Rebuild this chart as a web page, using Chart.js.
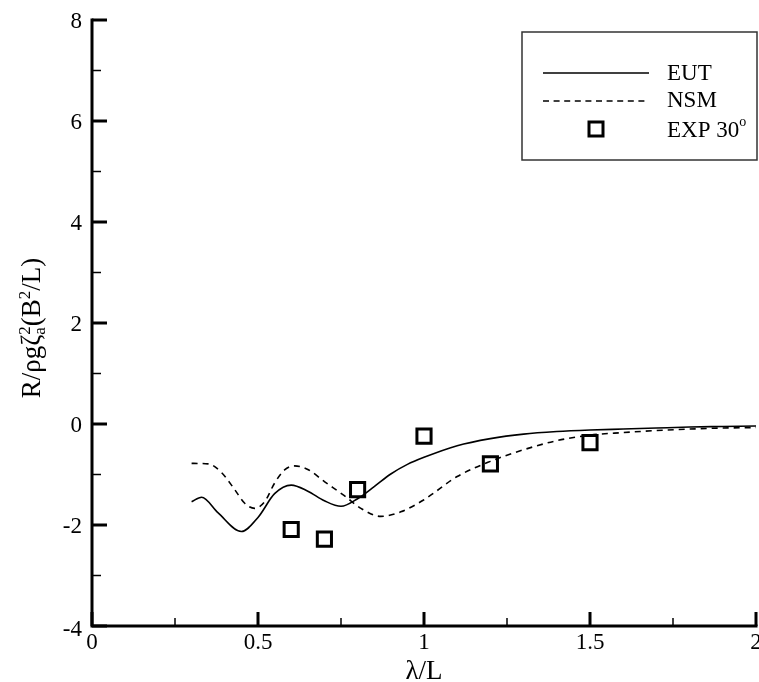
<!DOCTYPE html>
<html>
<head>
<meta charset="utf-8">
<script src="https://cdn.jsdelivr.net/npm/chart.js@4"></script>
<style>
  html, body { margin: 0; padding: 0; background: #fff; }
</style>
</head>
<body>
<canvas id="resistanceChart" width="759" height="682"></canvas>
<script>
// values
const eutX = [0.30, 0.33, 0.38, 0.45, 0.50, 0.55, 0.60, 0.65, 0.70, 0.75, 0.80, 0.85, 0.90, 0.95, 1.00, 1.10, 1.20, 1.30, 1.40, 1.50, 1.60, 1.70, 1.80, 1.90, 2.00];
const eutY = [-1.54, -1.45, -1.76, -2.13, -1.85, -1.38, -1.21, -1.33, -1.52, -1.63, -1.48, -1.24, -0.99, -0.80, -0.66, -0.43, -0.29, -0.20, -0.15, -0.12, -0.10, -0.08, -0.06, -0.05, -0.04];

const nsmX = [0.30, 0.35, 0.39, 0.43, 0.46, 0.49, 0.52, 0.55, 0.58, 0.61, 0.65, 0.70, 0.76, 0.81, 0.87, 0.93, 1.00, 1.10, 1.20, 1.30, 1.40, 1.50, 1.60, 1.70, 1.80, 1.90, 2.00];
const nsmY = [-0.78, -0.79, -0.96, -1.30, -1.57, -1.67, -1.54, -1.17, -0.91, -0.83, -0.90, -1.14, -1.42, -1.67, -1.83, -1.74, -1.50, -1.04, -0.74, -0.51, -0.33, -0.22, -0.17, -0.13, -0.10, -0.08, -0.07];

const expX = [0.6, 0.7, 0.8, 1.0, 1.2, 1.5];
const expY = [-2.09, -2.28, -1.30, -0.24, -0.79, -0.37];

const xMajor = [0, 0.5, 1, 1.5, 2];
const xMinor = [0.25, 0.75, 1.25, 1.75];
const yMajor = [-4, -2, 0, 2, 4, 6, 8];
const yMinor = [-3, -1, 1, 3, 5, 7];

const seriesNames = ['EUT', 'NSM', 'EXP 30'];

const toPoints = (xs, ys) => xs.map((x, i) => ({ x, y: ys[i] }));

const SERIF = '"Liberation Serif", "DejaVu Serif", serif';

// draws a list of text runs (normal / sup / sub / stacked sup+sub) from x
function drawRuns(ctx, runs, x, y, size) {
  const small = Math.round(size * 0.62);
  let cx = x;
  runs.forEach(r => {
    if (r.sup || r.sub) {
      ctx.font = `${small}px ${SERIF}`;
      let w = 0;
      if (r.sup) { ctx.fillText(r.sup, cx, y - size * 0.38); w = Math.max(w, ctx.measureText(r.sup).width); }
      if (r.sub) { ctx.fillText(r.sub, cx, y + size * 0.2); w = Math.max(w, ctx.measureText(r.sub).width); }
      cx += w;
    } else {
      ctx.font = `${size}px ${SERIF}`;
      ctx.fillText(r.t, cx, y);
      cx += ctx.measureText(r.t).width;
    }
  });
  return cx - x;
}
function runsWidth(ctx, runs, size) {
  const small = Math.round(size * 0.62);
  let w = 0;
  runs.forEach(r => {
    if (r.sup || r.sub) {
      ctx.font = `${small}px ${SERIF}`;
      w += Math.max(r.sup ? ctx.measureText(r.sup).width : 0, r.sub ? ctx.measureText(r.sub).width : 0);
    } else {
      ctx.font = `${size}px ${SERIF}`;
      w += ctx.measureText(r.t).width;
    }
  });
  return w;
}

const framePlugin = {
  id: 'frame',
  afterDraw(chart) {
    const { ctx, chartArea: a, scales: { x, y } } = chart;
    ctx.save();
    ctx.strokeStyle = '#000';
    ctx.fillStyle = '#000';

    // axis lines
    ctx.lineWidth = 3;
    ctx.beginPath();
    ctx.moveTo(a.left, a.top - 1.5);
    ctx.lineTo(a.left, a.bottom);
    ctx.lineTo(a.right + 1.5, a.bottom);
    ctx.stroke();

    // inward ticks
    yMajor.forEach(v => {
      const py = y.getPixelForValue(v);
      ctx.lineWidth = 3;
      ctx.beginPath(); ctx.moveTo(a.left, py); ctx.lineTo(a.left + 15, py); ctx.stroke();
    });
    yMinor.forEach(v => {
      const py = y.getPixelForValue(v);
      ctx.lineWidth = 1.5;
      ctx.beginPath(); ctx.moveTo(a.left, py); ctx.lineTo(a.left + 9, py); ctx.stroke();
    });
    xMajor.forEach(v => {
      const px = x.getPixelForValue(v);
      ctx.lineWidth = 3;
      ctx.beginPath(); ctx.moveTo(px, a.bottom); ctx.lineTo(px, a.bottom - 14); ctx.stroke();
    });
    xMinor.forEach(v => {
      const px = x.getPixelForValue(v);
      ctx.lineWidth = 1.5;
      ctx.beginPath(); ctx.moveTo(px, a.bottom); ctx.lineTo(px, a.bottom - 8); ctx.stroke();
    });

    // tick labels
    ctx.font = `23px ${SERIF}`;
    ctx.textBaseline = 'middle';
    ctx.textAlign = 'right';
    yMajor.forEach(v => {
      const py = y.getPixelForValue(v);
      ctx.fillText(String(v), a.left - 10, py + (v === -4 ? 4 : 2));
    });
    ctx.textAlign = 'center';
    xMajor.forEach(v => {
      ctx.fillText(String(v), x.getPixelForValue(v), a.bottom + 17);
    });

    // axis titles
    ctx.textAlign = 'left';
    ctx.textBaseline = 'alphabetic';
    ctx.font = `27px ${SERIF}`;
    const xt = 'λ/L';
    const xtw = ctx.measureText(xt).width;
    ctx.fillText(xt, (a.left + a.right) / 2 - xtw / 2, 679);

    const yRuns = [{ t: 'R/ρgζ' }, { sup: '2', sub: 'a' }, { t: '(B' }, { sup: '2' }, { t: '/L)' }];
    const ytw = runsWidth(ctx, yRuns, 27);
    ctx.save();
    ctx.translate(40, 328);
    ctx.rotate(-Math.PI / 2);
    drawRuns(ctx, yRuns, -ytw / 2, 0, 27);
    ctx.restore();

    // legend
    const names = chart.data.datasets.map(d => d.label);
    ctx.lineWidth = 1.5;
    ctx.strokeStyle = '#333';
    ctx.strokeRect(522, 32, 235, 128);
    ctx.strokeStyle = '#000';
    ctx.beginPath(); ctx.moveTo(543, 73); ctx.lineTo(649, 73); ctx.stroke();
    ctx.setLineDash([6, 4.6]);
    ctx.beginPath(); ctx.moveTo(543, 101); ctx.lineTo(649, 101); ctx.stroke();
    ctx.setLineDash([]);
    ctx.lineWidth = 3;
    ctx.strokeRect(589, 122, 14, 14);

    ctx.textBaseline = 'middle';
    ctx.font = `23px ${SERIF}`;
    ctx.fillText(names[0], 667, 74);
    ctx.fillText(names[1], 667, 101);
    drawRuns(ctx, [{ t: names[2] }, { sup: 'o' }], 667, 131, 23);
    ctx.restore();
  }
};

new Chart(document.getElementById('resistanceChart'), {
  type: 'line',
  data: {
    datasets: [
      { label: seriesNames[0], data: toPoints(eutX, eutY), borderColor: '#000', borderWidth: 1.6, pointRadius: 0, cubicInterpolationMode: 'monotone', fill: false },
      { label: seriesNames[1], data: toPoints(nsmX, nsmY), borderColor: '#000', borderWidth: 1.6, borderDash: [6, 5], pointRadius: 0, cubicInterpolationMode: 'monotone', fill: false },
      { label: seriesNames[2], data: toPoints(expX, expY), showLine: false, pointStyle: 'rect', pointRadius: 10, pointBorderWidth: 3, pointBorderColor: '#000', pointBackgroundColor: 'rgba(0,0,0,0)' }
    ]
  },
  options: {
    responsive: false,
    animation: false,
    devicePixelRatio: 1,
    layout: { autoPadding: false, padding: { left: 92, top: 20, right: 3, bottom: 56 } },
    scales: {
      x: { type: 'linear', min: 0, max: 2, display: false },
      y: { type: 'linear', min: -4, max: 8, display: false }
    },
    plugins: { legend: { display: false }, tooltip: { enabled: false } }
  },
  plugins: [framePlugin]
});
</script>
</body>
</html>
